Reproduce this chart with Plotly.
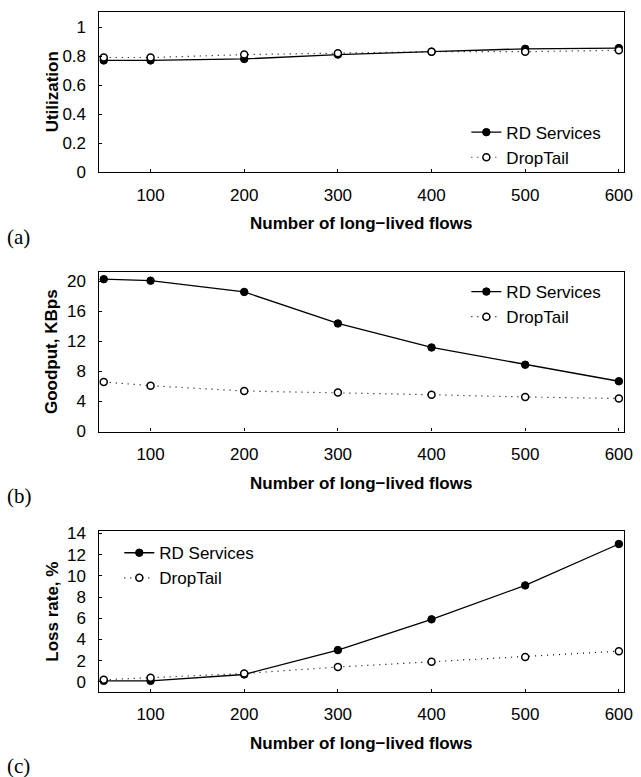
import plotly.graph_objects as go

# ---- data ----
flows = [50, 100, 200, 300, 400, 500, 600]
util_rd = [0.77, 0.77, 0.78, 0.81, 0.83, 0.85, 0.855]
util_dt = [0.79, 0.79, 0.81, 0.82, 0.83, 0.83, 0.84]
good_rd = [20.3, 20.1, 18.6, 14.4, 11.2, 8.9, 6.7]
good_dt = [6.6, 6.1, 5.4, 5.2, 4.9, 4.6, 4.4]
loss_rd = [0.1, 0.1, 0.7, 3.0, 5.9, 9.1, 13.0]
loss_dt = [0.2, 0.4, 0.8, 1.4, 1.9, 2.35, 2.9]
series_names = ["RD Services", "DropTail"]
x_ticks = [100, 200, 300, 400, 500, 600]
y_titles = ["Utilization", "Goodput, KBps", "Loss rate, %"]
x_title = "Number of long\u2212lived flows"
panel_labels = ["(a)", "(b)", "(c)"]

W, H = 641, 777
FONT = "Liberation Sans, Arial, sans-serif"

def px_x(p):
    return p / W

def px_y(p):
    return 1 - p / H

# panel geometry (pixel rows: top, bottom)
panels = [(5, 169), (271, 434), (536, 700)]
x_left, x_right = 100, 632.7
y_ranges = [[0, 1.104], [0, 21.25], [-0.92, 14.2]]
y_tickvals = [[0, 0.2, 0.4, 0.6, 0.8, 1], [0, 4, 8, 12, 16, 20], [0, 2, 4, 6, 8, 10, 12, 14]]
y_ticktext = [["0", "0.2", "0.4", "0.6", "0.8", "1"], None, None]
data_sets = [(util_rd, util_dt), (good_rd, good_dt), (loss_rd, loss_dt)]
legend_pos = [(473, 110), (473, 273), (121, 540)]

fig = go.Figure()
layout = dict(width=W, height=H, margin=dict(l=0, r=0, t=0, b=0),
              paper_bgcolor="white", plot_bgcolor="white",
              font=dict(family=FONT, color="black", size=17),
              annotations=[])

for i in range(3):
    n = "" if i == 0 else str(i + 1)
    xa, ya = "x" + n, "y" + n
    leg = "legend" + n
    rd, dt = data_sets[i]
    fig.add_trace(go.Scatter(
        x=flows, y=rd, name=series_names[0], xaxis=xa, yaxis=ya, legend=leg,
        mode="lines+markers", line=dict(color="black", width=1.3),
        marker=dict(symbol="circle", size=7.5, color="black", line=dict(color="black", width=1))))
    fig.add_trace(go.Scatter(
        x=flows, y=dt, name=series_names[1], xaxis=xa, yaxis=ya, legend=leg,
        mode="lines+markers", line=dict(color="black", width=1.2, dash="1px,5px"),
        marker=dict(symbol="circle", size=7, color="white", line=dict(color="black", width=1.5))))
    top, bot = panels[i]
    layout["xaxis" + n] = dict(
        domain=[px_x(x_left), px_x(x_right)], range=[44.5, 605.3], anchor=ya,
        tickvals=x_ticks, ticks="inside", ticklen=3, tickcolor="black",
        showline=True, linecolor="black", linewidth=1.3, mirror=True,
        showgrid=False, zeroline=False, tickfont=dict(size=17),
        ticklabelstandoff=7, ticklabeloverflow="allow")
    yax = dict(
        domain=[px_y(bot), px_y(top)], range=y_ranges[i], anchor=xa,
        tickvals=y_tickvals[i], ticks="inside", ticklen=3, tickcolor="black",
        showline=True, linecolor="black", linewidth=1.3, mirror=True,
        showgrid=False, zeroline=False, tickfont=dict(size=17),
        ticklabelstandoff=8, ticklabeloverflow="allow")
    if y_ticktext[i] is not None:
        yax["ticktext"] = y_ticktext[i]
    layout["yaxis" + n] = yax
    lx, ly = legend_pos[i]
    layout[leg] = dict(x=px_x(lx), y=px_y(ly), xanchor="left", yanchor="top",
                       xref="paper", yref="paper",
                       bgcolor="rgba(0,0,0,0)", borderwidth=0,
                       font=dict(family=FONT, size=17), itemwidth=30,
                       tracegroupgap=0)
    layout["annotations"].append(dict(
        text="<b>%s</b>" % y_titles[i], x=px_x(53), y=px_y((top + bot) / 2),
        xref="paper", yref="paper", textangle=-90, showarrow=False,
        xanchor="center", yanchor="middle", font=dict(family=FONT, size=17)))
    layout["annotations"].append(dict(
        text="<b>%s</b>" % x_title, x=px_x((x_left + x_right) / 2), y=px_y(bot + 52.7),
        xref="paper", yref="paper", showarrow=False,
        xanchor="center", yanchor="middle", font=dict(family=FONT, size=17)))
    layout["annotations"].append(dict(
        text=panel_labels[i], x=px_x(5), y=px_y(bot + 66 + (10 if i == 2 else 0)),
        xref="paper", yref="paper", showarrow=False,
        xanchor="left", yanchor="middle",
        font=dict(family="Liberation Serif, Times New Roman, serif", size=21)))

layout["showlegend"] = True
fig.update_layout(**layout)
fig.write_html(
    "out.html",
    post_script="document.body.style.margin='0';document.body.style.overflow='hidden';",
)
